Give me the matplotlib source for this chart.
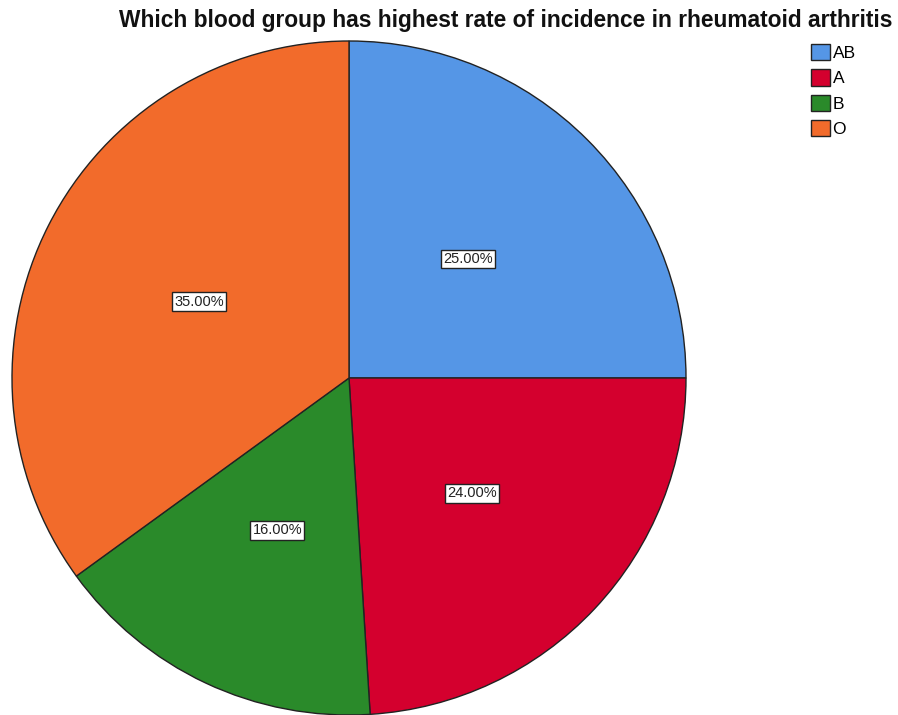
import matplotlib.pyplot as plt
from matplotlib.patches import Patch

groups = ['AB', 'A', 'B', 'O']
shares = [25.0, 24.0, 16.0, 35.0]
colors = ['#5596e6', '#d4002e', '#2a8a2a', '#f26b2b']

plt.rcParams['font.family'] = ['Liberation Sans', 'DejaVu Sans']

fig = plt.figure(figsize=(8.98, 7.15), dpi=100)
r = 337
ax = fig.add_axes([(349 - r) / 898, (715 - 378 - r) / 715, 2 * r / 898, 2 * r / 715])

wedges, texts, autotexts = ax.pie(
    shares, colors=colors, startangle=90, counterclock=False,
    autopct='%.2f%%', pctdistance=0.5, radius=1,
    wedgeprops=dict(edgecolor='#222222', linewidth=1.0),
    textprops=dict(fontsize=10.5, color='#222222'))
for t in autotexts:
    t.set_bbox(dict(facecolor='white', edgecolor='#222222', boxstyle='square,pad=0.15', linewidth=1))
ax.set_xlim(-1, 1)
ax.set_ylim(-1, 1)
ax.set_aspect('auto')

fig.text(0.5635, 0.972, 'Which blood group has highest rate of incidence in rheumatoid arthritis',
         ha='center', va='center', fontsize=16.4, fontweight='bold', color='#111111')

handles = [Patch(facecolor=c, edgecolor='#222222', label=g) for c, g in zip(colors, groups)]
fig.legend(handles=handles, loc='upper left', bbox_to_anchor=(0.903, 0.938), frameon=False,
           fontsize=12.5, handlelength=1.1, handleheight=1.05, handletextpad=0.15,
           labelspacing=0.47, borderaxespad=0, borderpad=0)

fig.savefig('out.png', dpi=100)
